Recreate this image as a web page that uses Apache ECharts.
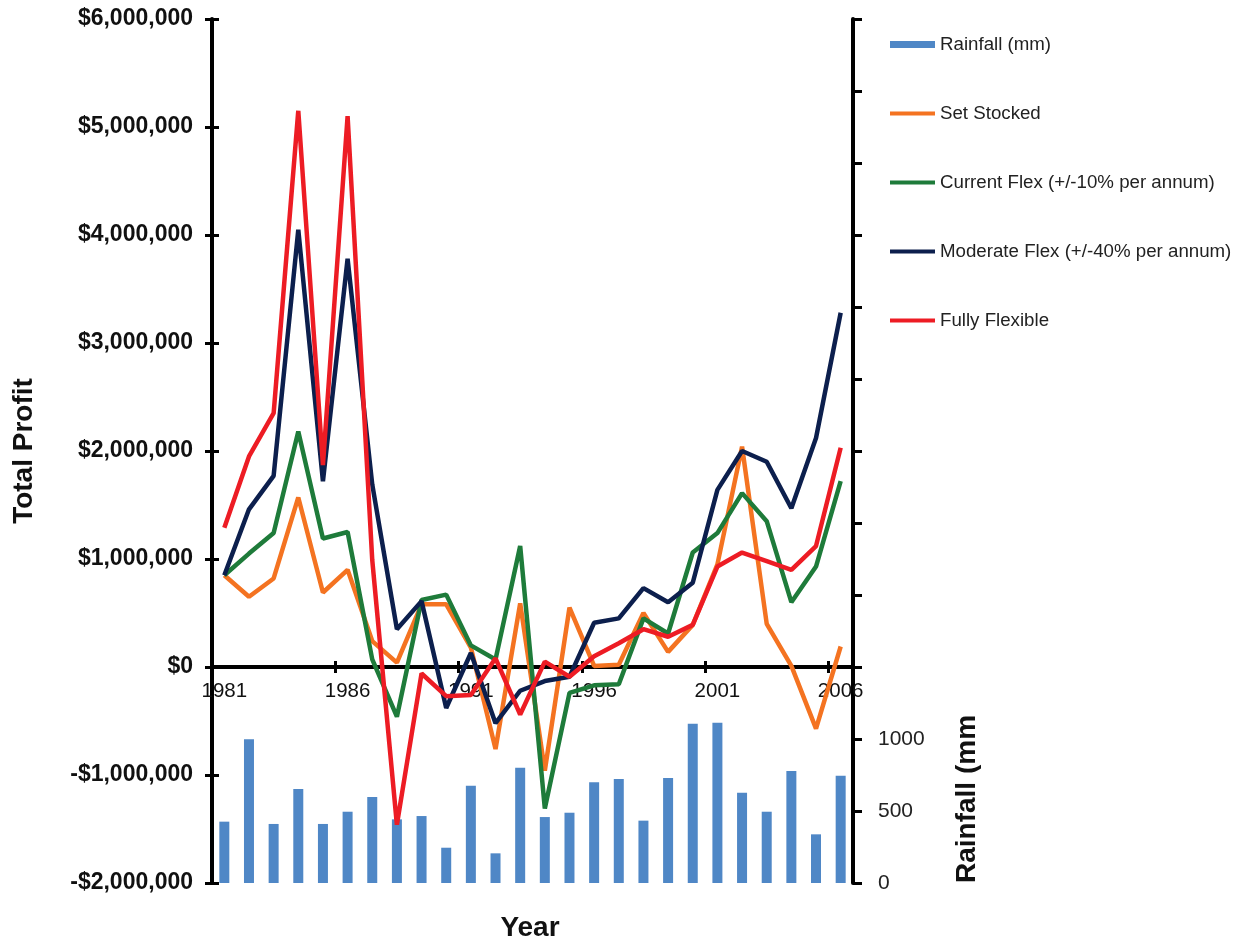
<!DOCTYPE html>
<html>
<head>
<meta charset="utf-8">
<script src="https://cdn.jsdelivr.net/npm/echarts@6/dist/echarts.min.js"></script>
<style>html,body{margin:0;padding:0;background:#fff;}#c{width:1244px;height:942px;}</style>
</head>
<body>
<div id="c"></div>
<script>
const years = ['1981','1982','1983','1984','1985','1986','1987','1988','1989','1990','1991','1992','1993','1994','1995','1996','1997','1998','1999','2000','2001','2002','2003','2004','2005','2006'];
const rainfall = [426, 998, 410, 653, 410, 495, 597, 442, 465, 245, 676, 206, 801, 458, 488, 699, 722, 433, 729, 1106, 1113, 627, 495, 778, 338, 745];
const setStocked = [850000, 650000, 820000, 1570000, 690000, 900000, 240000, 40000, 580000, 580000, 180000, -760000, 590000, -960000, 550000, 10000, 20000, 500000, 140000, 390000, 950000, 2040000, 400000, 10000, -570000, 190000];
const currentFlex = [850000, 1050000, 1240000, 2180000, 1190000, 1250000, 70000, -460000, 620000, 670000, 200000, 70000, 1120000, -1310000, -240000, -170000, -160000, 450000, 310000, 1060000, 1240000, 1610000, 1350000, 600000, 930000, 1720000];
const moderateFlex = [850000, 1460000, 1770000, 4050000, 1720000, 3780000, 1690000, 350000, 610000, -380000, 130000, -520000, -220000, -130000, -90000, 410000, 450000, 730000, 600000, 780000, 1640000, 2000000, 1900000, 1470000, 2120000, 3280000];
const fullyFlexible = [1290000, 1950000, 2350000, 5150000, 1870000, 5100000, 990000, -1460000, -60000, -270000, -260000, 80000, -440000, 50000, -90000, 100000, 220000, 350000, 280000, 390000, 930000, 1060000, 980000, 900000, 1120000, 2030000];
const rainTickLabels = ['0', '500', '1000'];

const FONT = "'Liberation Sans', Arial, sans-serif";
const chart = echarts.init(document.getElementById('c'), null, {renderer: 'canvas'});

function money(v) {
  const s = Math.abs(v).toLocaleString('en-US');
  return (v < 0 ? '-$' : '$') + s;
}

const lineLegend = function (name, color) {
  return {name: name, itemStyle: {opacity: 0}, lineStyle: {color: color, width: 4, opacity: 1}};
};

const option = {
  animation: false,
  backgroundColor: '#fff',
  grid: {left: 212, right: 391, top: 19, bottom: 59, containLabel: false},
  legend: {
    orient: 'vertical', left: 888, top: 35, padding: 0,
    itemWidth: 45, itemHeight: 7, itemGap: 50,
    textStyle: {fontFamily: FONT, fontSize: 18.7, color: '#222'},
    data: [
      {name: 'Rainfall (mm)', icon: 'rect'},
      lineLegend('Set Stocked', '#F47321'),
      lineLegend('Current Flex (+/-10% per annum)', '#1E7B3A'),
      lineLegend('Moderate Flex (+/-40% per annum)', '#0C1F4D'),
      lineLegend('Fully Flexible', '#ED1C24')
    ]
  },
  xAxis: [
    {
      type: 'category', data: years, boundaryGap: true, position: 'bottom', offset: -216,
      axisLine: {onZero: false, lineStyle: {color: '#000', width: 4}},
      axisTick: {show: true, interval: 4, length: 6, lineStyle: {color: '#000', width: 3}},
      axisLabel: {interval: 4, margin: 14, fontFamily: FONT, fontSize: 20.5, color: '#111'},
      splitLine: {show: false}
    },
    {
      type: 'category', data: years, boundaryGap: true, position: 'bottom', offset: -216,
      axisLine: {show: false, onZero: false},
      axisTick: {show: true, inside: true, interval: 4, length: 6, lineStyle: {color: '#000', width: 3}},
      axisLabel: {show: false},
      splitLine: {show: false}
    }
  ],
  yAxis: [
    {
      type: 'value', position: 'left', min: -2000000, max: 6000000, interval: 1000000,
      axisLine: {show: true, onZero: false, lineStyle: {color: '#000', width: 4}},
      axisTick: {show: true, length: 7, lineStyle: {color: '#000', width: 3}},
      axisLabel: {margin: 19, fontFamily: FONT, fontSize: 23, fontWeight: 'bold', color: '#111', formatter: money},
      splitLine: {show: false}
    },
    {
      type: 'value', position: 'right', min: 0, max: 6000, interval: 500,
      axisLine: {show: true, onZero: false, lineStyle: {color: '#000', width: 4}},
      axisTick: {show: true, length: 9, lineStyle: {color: '#000', width: 3}},
      axisLabel: {margin: 25, fontFamily: FONT, fontSize: 21, color: '#222',
        formatter: function (v) { const s = String(v); return rainTickLabels.indexOf(s) >= 0 ? s : ''; }},
      splitLine: {show: false}
    },
    {
      type: 'value', position: 'left', min: -2000000, max: 6000000, interval: 1000000,
      axisLine: {show: false},
      axisTick: {show: true, inside: true, length: 7, lineStyle: {color: '#000', width: 3}},
      axisLabel: {show: false},
      splitLine: {show: false}
    }
  ],
  series: [
    {name: 'Rainfall (mm)', type: 'bar', xAxisIndex: 0, yAxisIndex: 1, data: rainfall, barWidth: 10,
      itemStyle: {color: '#4F87C6'}, z: 1},
    {name: 'Set Stocked', type: 'line', xAxisIndex: 0, yAxisIndex: 0, data: setStocked, symbol: 'none',
      lineStyle: {color: '#F47321', width: 4.5}, itemStyle: {color: '#F47321'}, z: 3},
    {name: 'Current Flex (+/-10% per annum)', type: 'line', xAxisIndex: 0, yAxisIndex: 0, data: currentFlex, symbol: 'none',
      lineStyle: {color: '#1E7B3A', width: 4.5}, itemStyle: {color: '#1E7B3A'}, z: 4},
    {name: 'Moderate Flex (+/-40% per annum)', type: 'line', xAxisIndex: 0, yAxisIndex: 0, data: moderateFlex, symbol: 'none',
      lineStyle: {color: '#0C1F4D', width: 4.5}, itemStyle: {color: '#0C1F4D'}, z: 5},
    {name: 'Fully Flexible', type: 'line', xAxisIndex: 0, yAxisIndex: 0, data: fullyFlexible, symbol: 'none',
      lineStyle: {color: '#ED1C24', width: 4.5}, itemStyle: {color: '#ED1C24'}, z: 6}
  ],
  graphic: [
    {type: 'text', x: 24, y: 451, rotation: Math.PI / 2,
      style: {text: 'Total Profit', font: "bold 28px 'Liberation Sans', Arial, sans-serif", fill: '#111', textAlign: 'center', textVerticalAlign: 'middle'}},
    {type: 'text', x: 530, y: 928,
      style: {text: 'Year', font: "bold 28px 'Liberation Sans', Arial, sans-serif", fill: '#111', textAlign: 'center', textVerticalAlign: 'middle'}},
    {type: 'text', x: 967, y: 883, rotation: Math.PI / 2,
      style: {text: 'Rainfall (mm', font: "bold 28px 'Liberation Sans', Arial, sans-serif", fill: '#111', textAlign: 'left', textVerticalAlign: 'middle'}}
  ]
};
chart.setOption(option);
</script>
</body>
</html>
